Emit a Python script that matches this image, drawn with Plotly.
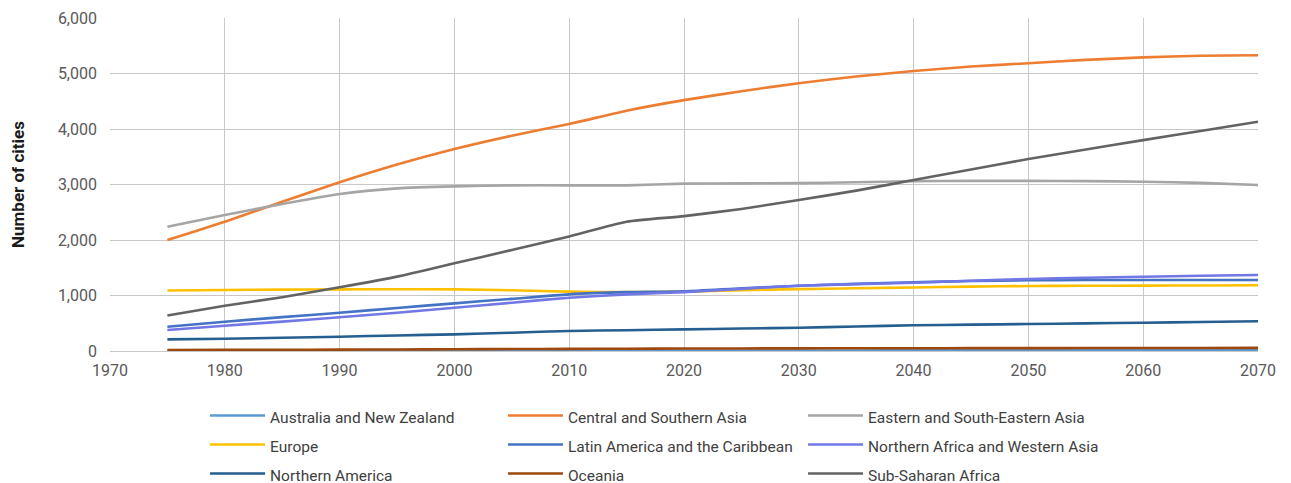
import plotly.graph_objects as go

years = [1975, 1980, 1985, 1990, 1995, 2000, 2005, 2010, 2015, 2020,
         2025, 2030, 2035, 2040, 2045, 2050, 2055, 2060, 2065, 2070]

australia_nz = [5, 5, 6, 6, 7, 7, 8, 8, 9, 9, 10, 10, 10, 11, 11, 11, 12, 12, 12, 12]
central_southern_asia = [2000, 2330, 2690, 3040, 3360, 3640, 3880, 4090, 4330, 4520,
                         4680, 4825, 4945, 5045, 5125, 5185, 5245, 5290, 5320, 5330]
eastern_se_asia = [2240, 2450, 2650, 2830, 2930, 2967, 2985, 2985, 2985, 3015,
                   3020, 3025, 3040, 3060, 3065, 3065, 3060, 3050, 3030, 2990]
europe = [1090, 1100, 1105, 1110, 1112, 1110, 1095, 1070, 1060, 1070,
          1095, 1115, 1130, 1145, 1160, 1170, 1175, 1178, 1180, 1184]
latin_america = [438, 528, 610, 690, 775, 859, 940, 1021, 1060, 1075,
                 1130, 1177, 1210, 1238, 1260, 1275, 1278, 1279, 1279, 1279]
n_africa_w_asia = [378, 456, 530, 607, 690, 780, 870, 960, 1020, 1060,
                   1120, 1177, 1205, 1230, 1265, 1297, 1320, 1339, 1355, 1369]
northern_america = [210, 222, 240, 258, 280, 300, 330, 360, 375, 390,
                    405, 420, 442, 463, 475, 486, 498, 510, 522, 535]
oceania = [18, 20, 22, 25, 28, 32, 35, 38, 41, 44, 46, 48, 49, 50, 51, 52, 53, 54, 55, 56]
sub_saharan = [640, 816, 970, 1148, 1340, 1580, 1820, 2065, 2330, 2430,
               2560, 2720, 2890, 3080, 3270, 3460, 3630, 3800, 3965, 4130]

# (name, values, colour, legend column)
series = [
    ("Australia and New Zealand", australia_nz, "#5B9BD5", "legend"),
    ("Central and Southern Asia", central_southern_asia, "#ED7D31", "legend2"),
    ("Eastern and South-Eastern Asia", eastern_se_asia, "#A5A5A5", "legend3"),
    ("Europe", europe, "#FFC000", "legend"),
    ("Latin America and the Caribbean", latin_america, "#4472C4", "legend2"),
    ("Northern Africa and Western Asia", n_africa_w_asia, "#7277E6", "legend3"),
    ("Northern America", northern_america, "#255E91", "legend"),
    ("Oceania", oceania, "#9E480E", "legend2"),
    ("Sub-Saharan Africa", sub_saharan, "#636363", "legend3"),
]

fig = go.Figure()
for name, vals, color, leg in series:
    fig.add_trace(go.Scatter(
        x=years, y=vals, mode="lines", legend=leg,
        # bigger legend font sets the row spacing, the span keeps text smaller
        name=f'<span style="font-size:15.5px">{name}</span>',
        line=dict(color=color, width=2.6, shape="spline", smoothing=0.6),
    ))

leg_style = dict(
    orientation="v", xanchor="left", y=-0.135, yanchor="top", itemwidth=55,
    font=dict(family="Roboto", size=20, color="#404040"), bgcolor="rgba(0,0,0,0)",
)

fig.update_layout(
    width=1291, height=483,
    margin=dict(l=102, r=41, t=10, b=140, autoexpand=False),
    plot_bgcolor="white", paper_bgcolor="white",
    font=dict(family="Roboto", size=16, color="#595959"),
    legend=dict(x=0.0828, **leg_style),
    legend2=dict(x=0.3423, **leg_style),
    legend3=dict(x=0.6037, **leg_style),
)

fig.update_xaxes(
    range=[1970, 2070], tickvals=list(range(1970, 2071, 10)),
    showgrid=True, gridcolor="#C8C8C8", gridwidth=1, automargin=False,
    showline=False, zeroline=False, ticks="", ticklabelstandoff=8,
)
fig.update_yaxes(
    range=[0, 6000], tickvals=[0, 1000, 2000, 3000, 4000, 5000, 6000],
    tickformat=",", showgrid=True, gridcolor="#C8C8C8", gridwidth=1,
    zeroline=True, zerolinecolor="#C8C8C8", zerolinewidth=1, automargin=False,
    ticks="", ticklabelstandoff=12,
    title=dict(text="<b>Number of cities</b>", font=dict(size=17, color="#1a1a1a"), standoff=40),
)

fig.write_html("out.html")
